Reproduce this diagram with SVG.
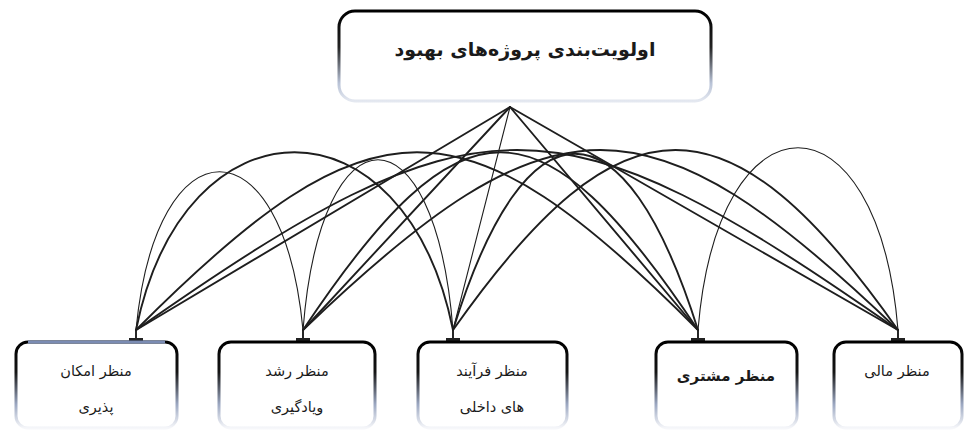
<svg xmlns="http://www.w3.org/2000/svg" width="967" height="430" viewBox="0 0 967 430">
<style>
.bx{fill:#fff;stroke-width:3}
.t{font-family:"DejaVu Sans","Noto Sans",sans-serif;fill:#1a1a1a;text-anchor:middle}
.s{font-size:14.5px}
.c{fill:none;stroke:#1e1e1e;stroke-width:1.9;stroke-linecap:round}
.thin{stroke-width:1.1}
.tick{fill:#222}
</style>
<defs>
<linearGradient id="g" x1="0" y1="0" x2="0" y2="1">
<stop offset="0" stop-color="#000"/>
<stop offset="0.35" stop-color="#151515"/>
<stop offset="0.72" stop-color="#9aa6c0"/>
<stop offset="1" stop-color="#f6f7fa"/>
</linearGradient>
<linearGradient id="gt" x1="0" y1="0" x2="0" y2="1">
<stop offset="0" stop-color="#000"/>
<stop offset="0.4" stop-color="#222"/>
<stop offset="0.8" stop-color="#b8c2d6"/>
<stop offset="1" stop-color="#e4e8f0"/>
</linearGradient>
</defs>
<rect width="967" height="430" fill="#fff"/>
<g id="connectors">
<path class="c" d="M510 107L136 330"/>
<path class="c" d="M510 107L303 330"/>
<path class="c thin" d="M510 107L453 330"/>
<path class="c" d="M510 107L698 330"/>
<path class="c" d="M510 107L898 330"/>
<path class="c thin" d="M136 330C156 119 283 119 303 330"/>
<path class="c" d="M136 330C184 93 405 93 453 330"/>
<path class="c" d="M136 330C372 93 462 93 698 330"/>
<path class="c" d="M136 330C479 90 555 90 898 330"/>
<path class="c thin" d="M303 330C321 103 435 103 453 330"/>
<path class="c" d="M303 330C461 93 540 93 698 330"/>
<path class="c" d="M303 330C553 90 648 90 898 330"/>
<path class="c" d="M453 330C526 95 624 95 698 330"/>
<path class="c" d="M453 330C622 90 729 90 898 330"/>
<path class="c thin" d="M698 330C718 87 878 87 898 330"/>
<path class="c" d="M136 330V341M303 330V341M453 330V341M698 330V341M898 330V341"/>
<rect class="tick" x="129" y="338" width="14" height="3"/>
<rect class="tick" x="296" y="338" width="14" height="3"/>
<rect class="tick" x="446" y="338" width="14" height="3"/>
<rect class="tick" x="691" y="338" width="14" height="3"/>
<rect class="tick" x="891" y="338" width="14" height="3"/>
</g>
<g id="top">
<rect class="bx" x="339" y="11" width="372" height="90" rx="16" stroke="url(#gt)"/>
<text class="t" x="525" y="56" font-size="19" font-weight="bold">اولویت&#x200C;بندی  پروژه&#x200C;های بهبود</text>
</g>
<g id="n1">
<rect class="bx" x="16" y="342" width="161" height="86" rx="12" stroke="url(#g)"/>
<path d="M28 342H165" stroke="#7b8cb3" stroke-width="3"/>
<text class="t s" x="96" y="376">منظر امکان</text>
<text class="t s" x="96" y="412">پذیری</text>
</g>
<g id="n2">
<rect class="bx" x="219" y="342" width="156" height="86" rx="12" stroke="url(#g)"/>
<text class="t s" x="297" y="376">منظر رشد</text>
<text class="t s" x="297" y="412">ویادگیری</text>
</g>
<g id="n3">
<rect class="bx" x="418" y="342" width="149" height="86" rx="12" stroke="url(#g)"/>
<text class="t s" x="492" y="376">منظر فرآیند</text>
<text class="t s" x="492" y="412">های داخلی</text>
</g>
<g id="n4">
<rect class="bx" x="656" y="342" width="141" height="86" rx="12" stroke="url(#g)"/>
<text class="t" x="726" y="381" font-size="15" font-weight="bold">منظر مشتری</text>
</g>
<g id="n5">
<rect class="bx" x="834" y="342" width="128" height="86" rx="12" stroke="url(#g)"/>
<text class="t s" x="897" y="376">منظر مالی</text>
</g>
</svg>
